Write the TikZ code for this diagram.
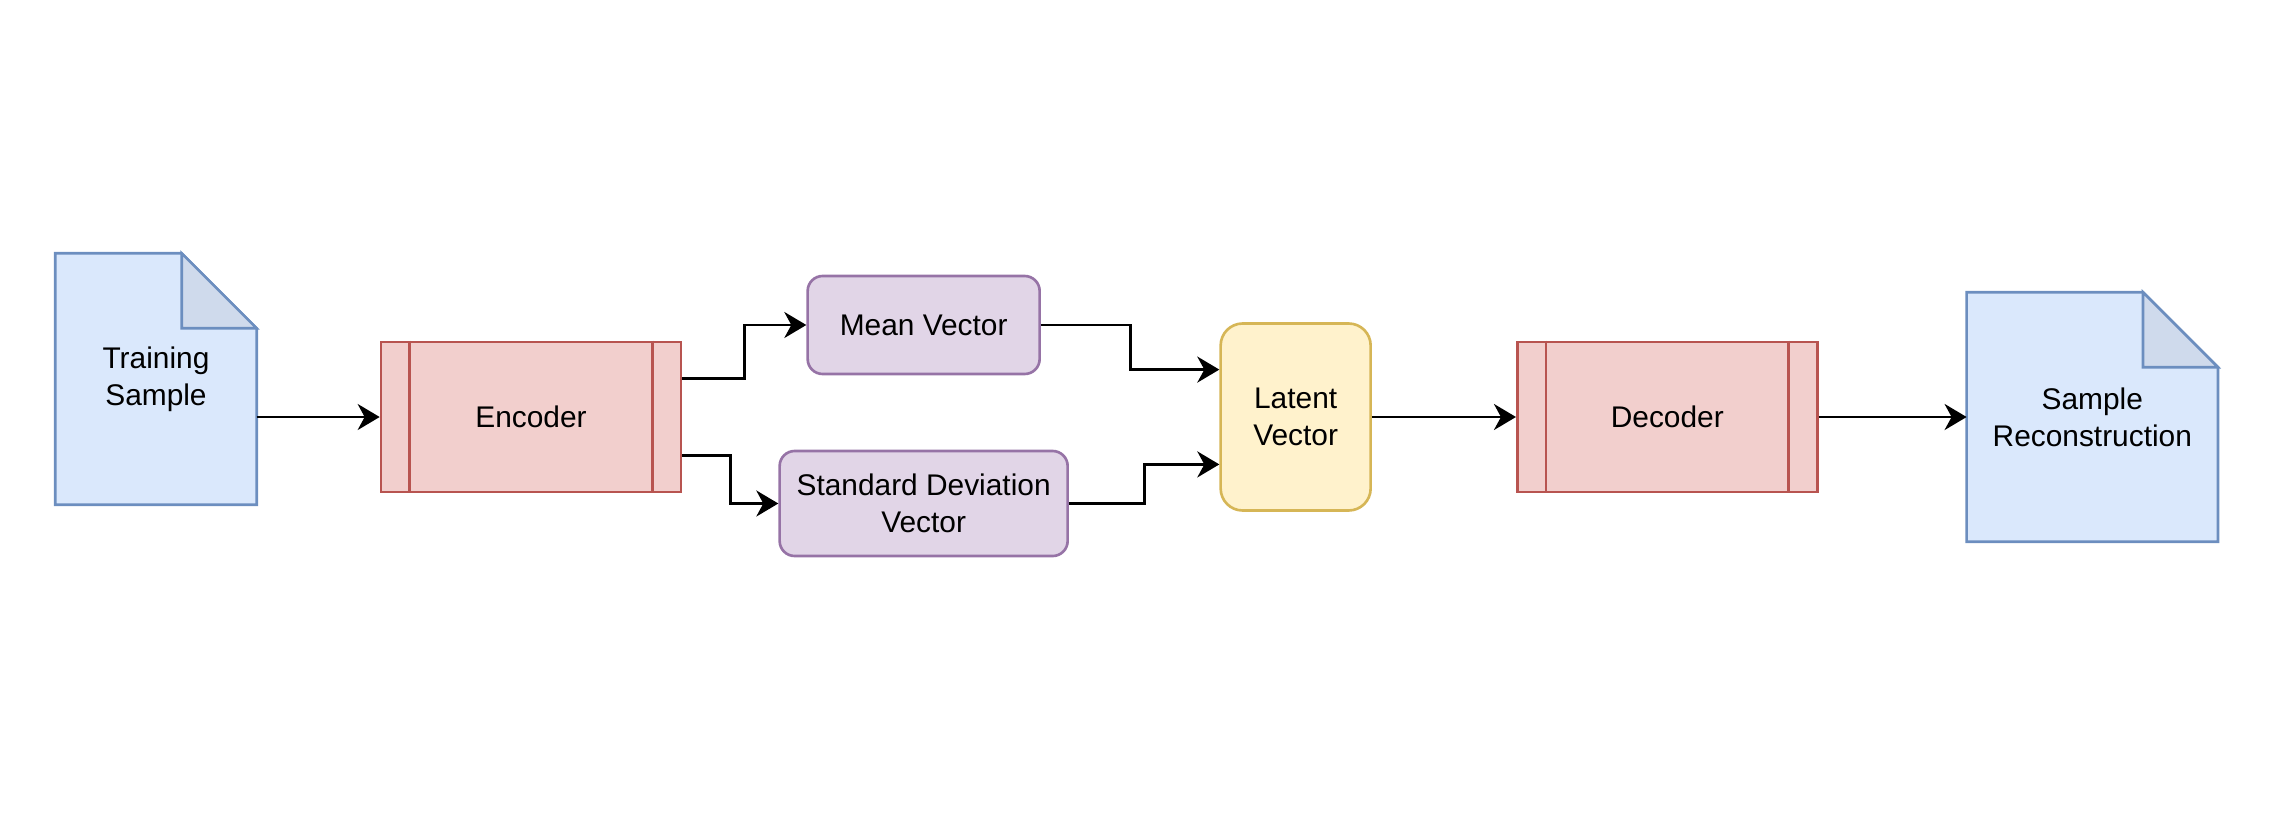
\documentclass[tikz,border=0pt]{standalone}
\usepackage{fontspec}
\setmainfont{Liberation Sans}
\usepackage{tikz}
\usetikzlibrary{arrows.meta,positioning,calc,backgrounds}
\definecolor{docblue}{RGB}{218,232,252}
\definecolor{docline}{RGB}{108,142,191}
\definecolor{docfold}{RGB}{207,218,236}
\definecolor{procred}{RGB}{242,207,205}
\definecolor{procline}{RGB}{184,84,80}
\definecolor{vecpurple}{RGB}{225,213,231}
\definecolor{vecline}{RGB}{150,115,166}
\definecolor{latyellow}{RGB}{255,242,204}
\definecolor{latline}{RGB}{214,182,86}
\newcommand{\lblfont}{\fontsize{8.5}{10.5}\selectfont}
\tikzstyle{doc} = [rectangle, minimum width=2cm, minimum height=2.5cm,
    align=center, inner sep=0pt, font=\lblfont]
\tikzstyle{docshape} = [draw=docline, fill=docblue, line width=0.75pt]
\tikzstyle{process} = [rectangle, minimum width=3cm, minimum height=1.5cm,
    draw=procline, fill=procred, line width=0.75pt, font=\lblfont]
\tikzstyle{vecbox} = [rectangle, rounded corners=0.15cm, draw=vecline,
    fill=vecpurple, line width=0.75pt, align=center, font=\lblfont]
\tikzstyle{arrow} = [line width=0.8pt,
    -{Stealth[length=0.22cm, width=0.26cm, inset=0.07cm]}]

\begin{document}
\begin{tikzpicture}
\useasboundingbox (0,0) rectangle (22.9,8.16);
% Encoder
\node[process] (enc) at (5.31,3.99) {Encoder};
\draw[procline, line width=0.75pt] ($(enc.north west)+(0.3,0)$) -- ($(enc.south west)+(0.3,0)$);
\draw[procline, line width=0.75pt] ($(enc.north east)+(-0.3,0)$) -- ($(enc.south east)+(-0.3,0)$);
% Input
\node[doc, left=1.23cm of enc, yshift=0.38cm] (train) {Training\\Sample};
% Distribution vectors
\node[vecbox, right=1.24cm of enc, yshift=0.92cm, minimum width=2.32cm, minimum height=0.98cm] (mean) {Mean Vector};
\node[vecbox, right=0.96cm of enc, yshift=-0.865cm, minimum width=2.88cm, minimum height=1.05cm] (std) {Standard Deviation\\Vector};
% Latent
\node[vecbox, rounded corners=0.22cm, draw=latline, fill=latyellow, right=5.37cm of enc, minimum width=1.5cm, minimum height=1.87cm] (latent) {Latent\\Vector};
% Decoder
\node[process, right=1.44cm of latent] (dec) {Decoder};
\draw[procline, line width=0.75pt] ($(dec.north west)+(0.3,0)$) -- ($(dec.south west)+(0.3,0)$);
\draw[procline, line width=0.75pt] ($(dec.north east)+(-0.3,0)$) -- ($(dec.south east)+(-0.3,0)$);
% Output
\node[doc, minimum width=2.5cm, minimum height=2.48cm, right=1.48cm of dec] (recon) {Sample\\Reconstruction};
% Document outlines
\begin{scope}[on background layer]
\draw[docshape] (train.north west) -- ($(train.north east)+(-0.75,0)$) -- ($(train.north east)+(0,-0.75)$) -- (train.south east) -- (train.south west) -- cycle;
\draw[docshape, fill=docfold] ($(train.north east)+(-0.75,0)$) -- ++(0,-0.75) -- ++(0.75,0) -- cycle;
\draw[docshape] (recon.north west) -- ($(recon.north east)+(-0.75,0)$) -- ($(recon.north east)+(0,-0.75)$) -- (recon.south east) -- (recon.south west) -- cycle;
\draw[docshape, fill=docfold] ($(recon.north east)+(-0.75,0)$) -- ++(0,-0.75) -- ++(0.75,0) -- cycle;
\end{scope}
% Ports
\coordinate (enc_up) at ($(enc.north east)!0.25!(enc.south east)$);
\coordinate (enc_dn) at ($(enc.north east)!0.75!(enc.south east)$);
\coordinate (lat_up) at ($(latent.north west)!0.25!(latent.south west)$);
\coordinate (lat_dn) at ($(latent.north west)!0.75!(latent.south west)$);
% Arrows
\draw[arrow] (train.east |- enc.west) -- (enc.west);
\draw[arrow] (enc_up) -| ($(enc_up)!0.5!(mean.west)$) |- (mean.west);
\draw[arrow] (enc_dn) -| ($(enc_dn)!0.5!(std.west)$) |- (std.west);
\draw[arrow] (mean.east) -| ($(mean.east)!0.5!(lat_up)$) |- (lat_up);
\draw[arrow] (std.east) -| ($(std.east)!0.5!(lat_dn)$) |- (lat_dn);
\draw[arrow] (latent) -- (dec);
\draw[arrow] (dec.east) -- (dec.east -| recon.west);
\end{tikzpicture}
\end{document}
